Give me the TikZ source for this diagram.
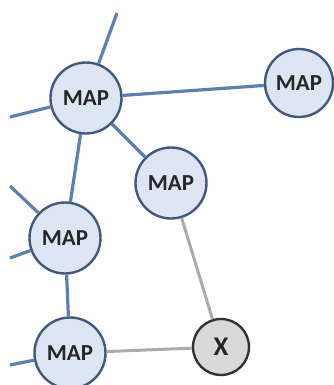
\documentclass[tikz,border=0pt]{standalone}
\usepackage{fontspec}
\setmainfont{Carlito}
\begin{document}
\begin{tikzpicture}[x=1bp,y=-1bp,
  mapnode/.style={circle,draw=mapborder,fill=mapfill,line width=2.4bp,minimum size=71bp,inner sep=0pt,font=\fontsize{23}{23}\selectfont\bfseries,text=black!85},
  xnode/.style={circle,draw=black!80,fill=xfill,line width=2.4bp,minimum size=56bp,inner sep=0pt,font=\fontsize{27}{27}\selectfont\bfseries,text=black!85},
  blueline/.style={draw=linkblue,line width=3.2bp},
  grayline/.style={draw=linkgray,line width=3bp}]
\definecolor{mapborder}{HTML}{3F5A7C}
\definecolor{mapfill}{HTML}{DCE5F1}
\definecolor{xfill}{HTML}{D9D9D9}
\definecolor{linkblue}{HTML}{5A81B2}
\definecolor{linkgray}{HTML}{ABABAB}
\useasboundingbox (0,0) rectangle (334,385);
\fill[white] (0,0) rectangle (334,385);
\coordinate (t1) at (117,13);
\coordinate (l1) at (10,117);
\coordinate (l2) at (10,186);
\coordinate (l3) at (10,258);
\coordinate (l4) at (10,365);
\node[mapnode] (A) at (86,98) {MAP};
\node[mapnode,minimum size=68bp] (B) at (299,83) {MAP};
\node[mapnode] (C) at (171,183) {MAP};
\node[mapnode] (D) at (65,238) {MAP};
\node[mapnode] (E) at (70,353) {MAP};
\node[xnode] (X) at (221,347) {X};
\draw[blueline] (A) -- (t1);
\draw[blueline] (A) -- (l1);
\draw[blueline] (A) -- (B);
\draw[blueline] (A) -- (C);
\draw[blueline] (A) -- (D);
\draw[blueline] (D) -- (l2);
\draw[blueline] (D) -- (l3);
\draw[blueline] (D) -- (E);
\draw[blueline] (E) -- (l4);
\draw[grayline] (C) -- (X);
\draw[grayline] (E) -- (X);
\end{tikzpicture}
\end{document}
